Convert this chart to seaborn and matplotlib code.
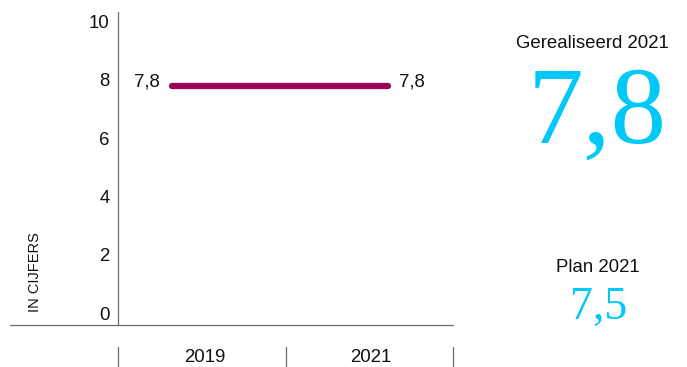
import matplotlib
matplotlib.use("Agg")
import matplotlib.pyplot as plt
import seaborn as sns
import pandas as pd
from matplotlib.lines import Line2D

# Data
jaren = ["2019", "2021"]
cijfers = [7.8, 7.8]
gerealiseerd_label = "Gerealiseerd 2021"
gerealiseerd_waarde = 7.8
plan_label = "Plan 2021"
plan_waarde = 7.5
y_ticks = [0, 2, 4, 6, 8, 10]

LINE_COLOR = "#9B0058"
CYAN = "#00C8F8"
GREY = "#6E6E6E"
TXT = "#111111"
FS = 13.4

sns.set_style("white")
plt.rcParams["font.family"] = ["Liberation Sans", "DejaVu Sans"]

W, H = 687, 367
fig = plt.figure(figsize=(W / 100, H / 100), dpi=100)
ax = fig.add_axes([118 / W, 1 - 325 / H, 335 / W, 313 / H])

df = pd.DataFrame({"jaar": jaren, "cijfer": cijfers})
df["pos"] = range(len(df))
sns.lineplot(data=df, x="pos", y="cijfer", ax=ax, color=LINE_COLOR,
             linewidth=4.5, solid_capstyle="round", legend=False)

ax.set_xlim(-0.25, 1.30)
ax.set_ylim(-0.41, 10.33)
ax.set_yticks(y_ticks)
ax.set_yticklabels([str(t) for t in y_ticks])
ax.tick_params(axis="y", length=0, pad=6, labelsize=FS, colors=TXT)
ax.set_xticks([])
ax.set_xlabel("")
ax.set_ylabel("")
for s in ["top", "right", "bottom"]:
    ax.spines[s].set_visible(False)
ax.spines["left"].set_color(GREY)
ax.spines["left"].set_linewidth(0.9)

# Value labels at the ends of the line
fmt = lambda v: f"{v:.1f}".replace(".", ",")
ax.annotate(fmt(cijfers[0]), (df["pos"][0], cijfers[0]), xytext=(-9, 3),
            textcoords="offset points", ha="right", va="center", fontsize=FS,
            color=TXT)
ax.annotate(fmt(cijfers[-1]), (df["pos"].iloc[-1], cijfers[-1]), xytext=(8, 3),
            textcoords="offset points", ha="left", va="center", fontsize=FS,
            color=TXT)

# Baseline extending to the left edge
fig.add_artist(Line2D([10 / W, 453 / W], [1 - 325 / H, 1 - 325 / H],
                      color=GREY, linewidth=0.9))

# Category band below the chart
for xp in [118, 286, 453]:
    fig.add_artist(Line2D([xp / W, xp / W], [0, 1 - 347 / H],
                          color=GREY, linewidth=0.9))
for xc, lab in zip([205, 371], jaren):
    fig.text(xc / W, 1 - 366 / H, lab, ha="center", va="bottom",
             fontsize=FS, color=TXT)

# Vertical axis caption
fig.text(35 / W, 1 - 272 / H, "IN CIJFERS", rotation=90, ha="center",
         va="center", fontsize=10.5, color=TXT)

# Key figures on the right
fig.text(592 / W, 1 - 43 / H, gerealiseerd_label, ha="center", va="center",
         fontsize=FS, color=TXT)
fig.text(597 / W, 1 - 143 / H, fmt(gerealiseerd_waarde), ha="center",
         va="baseline", fontsize=80, color=CYAN, family="Liberation Serif")
fig.text(598 / W, 1 - 268 / H, plan_label, ha="center", va="center",
         fontsize=FS, color=TXT)
fig.text(599 / W, 1 - 319 / H, fmt(plan_waarde), ha="center", va="baseline",
         fontsize=33, color=CYAN, family="Liberation Serif")

fig.savefig("out.png", dpi=100)
